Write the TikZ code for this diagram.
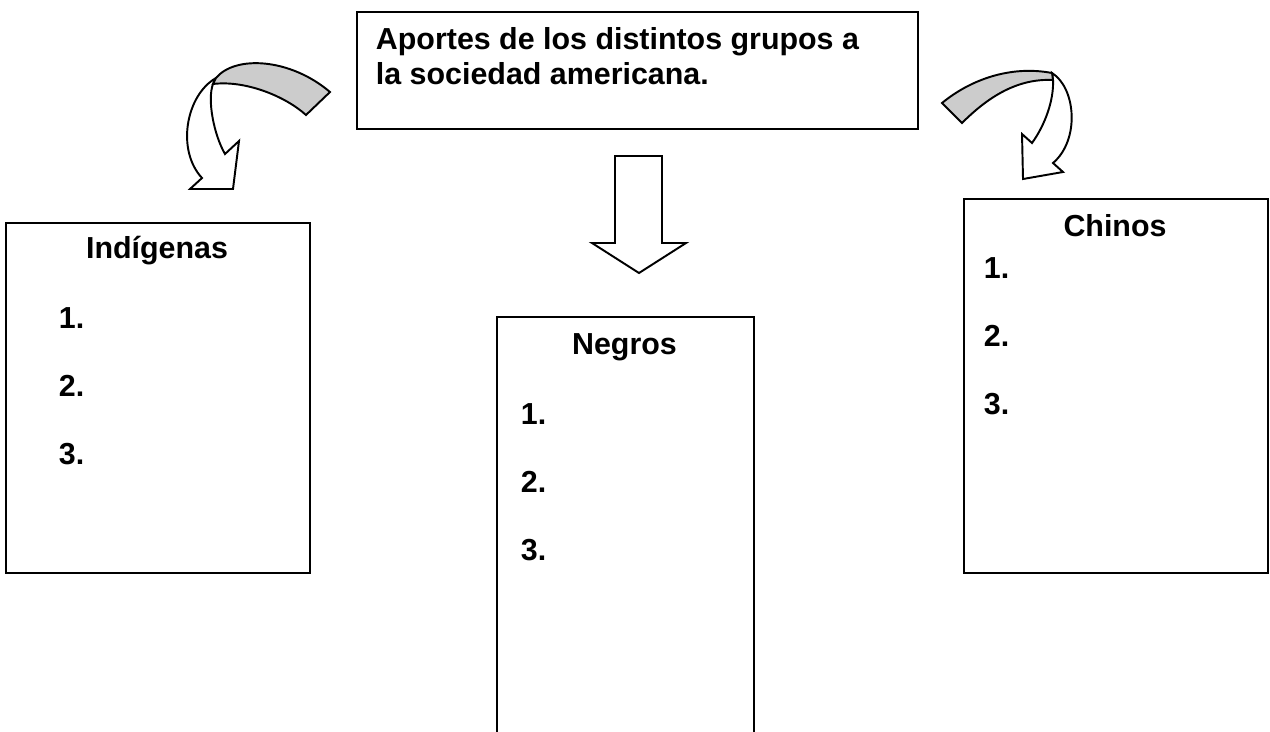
\documentclass[tikz,border=0pt]{standalone}
\usepackage{fontspec}
\setmainfont{Liberation Sans}
\begin{document}
\begin{tikzpicture}[x=0.02cm, y=-0.02cm, line width=1.1pt,
    caja/.style={draw=black, rectangle, inner sep=0pt},
    texto/.style={anchor=base west, inner sep=0pt, align=left, font=\bfseries\fontsize{17.3}{19.9}\selectfont},
    titulo/.style={anchor=base, inner sep=0pt, font=\bfseries\fontsize{17.3}{19.9}\selectfont},
    flecha/.style={draw=black, fill=white, line join=miter},
    lomo/.style={draw=black, fill=black!20, line join=miter}]
    \useasboundingbox (0,0) rectangle (1270,731);
    \clip (0,0) rectangle (1270,731);

    \node[caja, anchor=north west, minimum width=11.22cm, minimum height=2.34cm] (aportes) at (356,11) {};
    \node[texto] (tema) at (375,84) {Aportes de los distintos grupos a\\la sociedad americana.};

    \node[caja, anchor=north west, minimum width=6.08cm, minimum height=7cm] (indigenas) at (5,222) {};
    \node[caja, anchor=north west, minimum width=5.14cm, minimum height=8.8cm] (negros) at (496,316) {};
    \node[caja, anchor=north west, minimum width=6.08cm, minimum height=7.48cm] (chinos) at (963,198) {};

    \node[titulo] (tind) at (157,258) {Indígenas};
    \node[titulo] (tneg) at (624.5,354) {Negros};
    \node[titulo] (tchi) at (1115,236) {Chinos};

    \foreach \n/\y in {1/328,2/396,3/464}
        \node[texto] (ind\n) at (58,\y) {\n.};
    \foreach \n/\y in {1/424,2/492,3/560}
        \node[texto] (neg\n) at (520,\y) {\n.};
    \foreach \n/\y in {1/278,2/346,3/414}
        \node[texto] (chi\n) at (983,\y) {\n.};

    \draw[flecha] (615,156) -- (662,156) -- (662,243) -- (686,243) -- (639,273)
        -- (592,243) -- (615,243) -- cycle;

    \draw[flecha] (216,78) .. controls (186,95) and (176,150) .. (202,178)
        -- (190,189) -- (233,189) -- (239,141) -- (225,154)
        .. controls (214,135) and (207,100) .. (213,84) -- cycle;
    \draw[lomo] (216,78) .. controls (235,55) and (290,58) .. (330,92)
        -- (306,115) .. controls (285,96) and (245,80) .. (213,84) -- cycle;

    \draw[flecha] (1052,73) .. controls (1076,88) and (1080,140) .. (1053,163)
        -- (1063,172) -- (1023,179) -- (1022,134) -- (1032,143)
        .. controls (1045,125) and (1054,100) .. (1053,80) -- cycle;
    \draw[lomo] (942,103) .. controls (970,80) and (1010,65) .. (1052,73)
        -- (1053,80) .. controls (1015,78) and (985,100) .. (962,123) -- cycle;
\end{tikzpicture}
\end{document}
